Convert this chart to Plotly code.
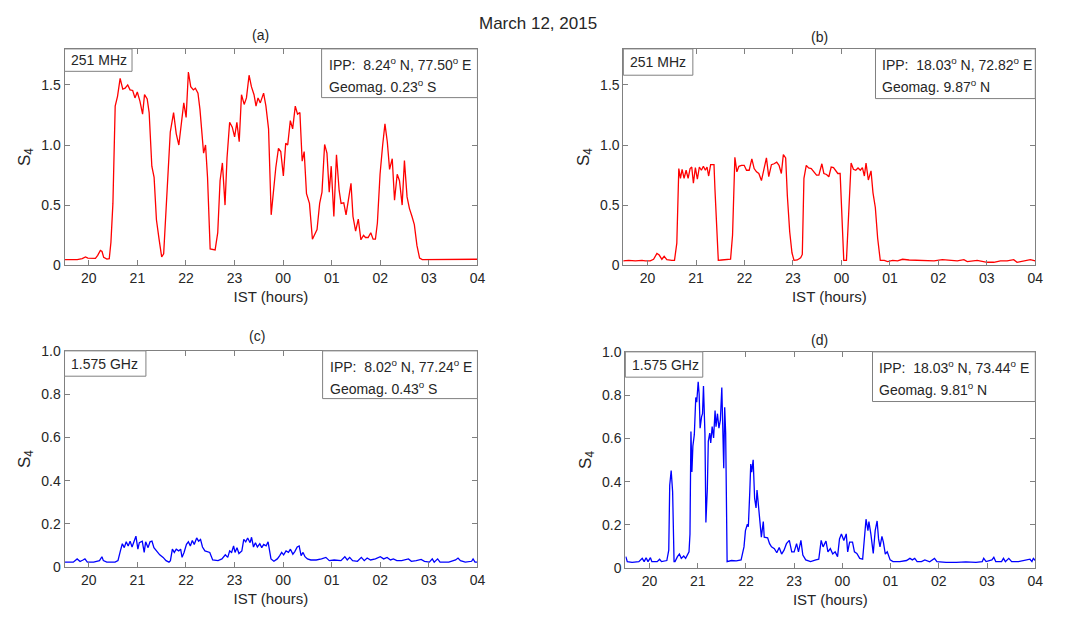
import plotly.graph_objects as go

# ---------------- data (IST hours; values after midnight are 24+) ----------------
hour_ticks = [20, 21, 22, 23, 24, 25, 26, 27, 28]
hour_labels = ["20", "21", "22", "23", "00", "01", "02", "03", "04"]

# (a) 251 MHz, IPP 8.24N
ta = [19.511, 19.762, 19.864, 19.932, 19.980, 20.068, 20.136, 20.183, 20.238, 20.272, 20.306, 20.373,
      20.421, 20.455, 20.496, 20.543, 20.591, 20.645, 20.699, 20.747, 20.801, 20.849, 20.903, 20.950,
      20.998, 21.052, 21.107, 21.147, 21.202, 21.242, 21.297, 21.344, 21.392, 21.446, 21.500, 21.541,
      21.595, 21.636, 21.677, 21.745, 21.799, 21.853, 21.901, 21.955, 22.003, 22.050, 22.098, 22.152,
      22.193, 22.247, 22.288, 22.329, 22.363, 22.403, 22.444, 22.498, 22.546, 22.600, 22.654, 22.702,
      22.750, 22.804, 22.845, 22.899, 22.953, 23.001, 23.048, 23.096, 23.143, 23.198, 23.245, 23.299,
      23.347, 23.401, 23.442, 23.483, 23.530, 23.564, 23.598, 23.646, 23.700, 23.754, 23.802, 23.849,
      23.904, 23.951, 24.005, 24.053, 24.094, 24.148, 24.196, 24.250, 24.297, 24.345, 24.392, 24.433,
      24.481, 24.542, 24.603, 24.650, 24.698, 24.752, 24.800, 24.854, 24.902, 24.949, 24.990, 25.044,
      25.098, 25.153, 25.193, 25.248, 25.295, 25.343, 25.397, 25.438, 25.492, 25.547, 25.601, 25.655,
      25.696, 25.750, 25.804, 25.852, 25.900, 25.940, 25.995, 26.049, 26.096, 26.144, 26.191, 26.246,
      26.293, 26.348, 26.395, 26.450, 26.497, 26.551, 26.599, 26.653, 26.701, 26.755, 26.809, 26.864,
      27.366, 27.997]
sa = [0.046, 0.046, 0.054, 0.068, 0.059, 0.059, 0.057, 0.081, 0.122, 0.114, 0.065, 0.051,
      0.054, 0.189, 0.514, 1.324, 1.405, 1.554, 1.465, 1.473, 1.500, 1.459, 1.454, 1.392,
      1.441, 1.365, 1.257, 1.419, 1.384, 1.270, 0.824, 0.730, 0.378, 0.216, 0.068, 0.095,
      0.514, 0.892, 1.108, 1.270, 1.095, 1.000, 1.162, 1.351, 1.230, 1.608, 1.486, 1.459,
      1.473, 1.432, 1.297, 1.108, 0.932, 1.000, 0.730, 0.135, 0.130, 0.127, 0.270, 0.703,
      0.851, 0.500, 0.892, 1.189, 1.149, 1.068, 1.189, 1.027, 1.419, 1.338, 1.392, 1.581,
      1.486, 1.419, 1.324, 1.392, 1.351, 1.392, 1.432, 1.324, 1.135, 0.419, 0.649, 0.811,
      0.973, 0.946, 0.743, 1.014, 1.000, 1.203, 1.135, 1.324, 1.257, 1.270, 0.865, 0.946,
      0.595, 0.514, 0.216, 0.257, 0.297, 0.514, 0.608, 1.005, 0.932, 0.608, 0.824, 0.405,
      0.919, 0.622, 0.514, 0.519, 0.419, 0.541, 0.681, 0.405, 0.284, 0.384, 0.211, 0.249,
      0.230, 0.230, 0.270, 0.216, 0.216, 0.351, 0.757, 1.000, 1.176, 1.027, 0.797, 0.886,
      0.541, 0.757, 0.703, 0.500, 0.870, 0.568, 0.473, 0.405, 0.338, 0.162, 0.059, 0.046,
      0.049, 0.049]

# (b) 251 MHz, IPP 18.03N
tb = [19.493, 19.610, 19.747, 19.884, 19.952, 20.055, 20.123, 20.192, 20.240, 20.295, 20.342, 20.397,
      20.500, 20.555, 20.603, 20.644, 20.678, 20.712, 20.753, 20.795, 20.836, 20.877, 20.911, 20.945,
      20.986, 21.027, 21.068, 21.110, 21.151, 21.192, 21.226, 21.260, 21.301, 21.370, 21.390, 21.425,
      21.459, 21.527, 21.630, 21.712, 21.753, 21.801, 21.842, 21.884, 21.938, 21.993, 22.041, 22.096,
      22.151, 22.199, 22.247, 22.295, 22.349, 22.397, 22.452, 22.500, 22.555, 22.610, 22.664, 22.712,
      22.760, 22.801, 22.849, 22.884, 22.932, 22.979, 23.021, 23.089, 23.158, 23.192, 23.226, 23.274,
      23.322, 23.377, 23.432, 23.486, 23.534, 23.596, 23.637, 23.692, 23.740, 23.788, 23.836, 23.877,
      23.925, 23.973, 24.014, 24.048, 24.103, 24.144, 24.199, 24.247, 24.295, 24.342, 24.390, 24.432,
      24.473, 24.507, 24.555, 24.610, 24.651, 24.699, 24.747, 24.801, 24.884, 24.952, 25.055, 25.158,
      25.260, 25.397, 25.534, 25.705, 25.911, 26.082, 26.253, 26.390, 26.527, 26.596, 26.801, 27.007,
      27.144, 27.281, 27.418, 27.555, 27.623, 27.760, 27.897, 28.000]
sb = [0.035, 0.040, 0.035, 0.040, 0.035, 0.035, 0.049, 0.097, 0.084, 0.049, 0.073, 0.046,
      0.040, 0.040, 0.183, 0.804, 0.723, 0.798, 0.723, 0.790, 0.723, 0.804, 0.817, 0.682,
      0.812, 0.715, 0.817, 0.790, 0.823, 0.790, 0.817, 0.742, 0.836, 0.836, 0.629, 0.332,
      0.040, 0.043, 0.043, 0.049, 0.251, 0.898, 0.777, 0.823, 0.831, 0.831, 0.790, 0.790,
      0.885, 0.804, 0.777, 0.763, 0.704, 0.804, 0.893, 0.736, 0.836, 0.844, 0.858, 0.831,
      0.763, 0.920, 0.893, 0.575, 0.278, 0.103, 0.040, 0.043, 0.062, 0.089, 0.723, 0.831,
      0.809, 0.804, 0.777, 0.750, 0.750, 0.844, 0.763, 0.755, 0.736, 0.817, 0.812, 0.790,
      0.763, 0.763, 0.386, 0.040, 0.040, 0.386, 0.850, 0.798, 0.790, 0.809, 0.790, 0.812,
      0.742, 0.850, 0.709, 0.785, 0.602, 0.480, 0.224, 0.040, 0.040, 0.030, 0.040, 0.035,
      0.049, 0.043, 0.040, 0.040, 0.035, 0.046, 0.040, 0.035, 0.046, 0.030, 0.040, 0.024,
      0.024, 0.035, 0.035, 0.046, 0.024, 0.035, 0.046, 0.035]

# (c) 1.575 GHz, IPP 8.02N
tc = [19.51, 19.68, 19.76, 19.82, 19.88, 19.92, 19.97, 20.10, 20.22, 20.27, 20.30, 20.37, 20.54, 20.60,
      20.65, 20.69, 20.73, 20.77, 20.81, 20.85, 20.89, 20.93, 20.97, 21.01, 21.04, 21.10, 21.14, 21.17,
      21.22, 21.26, 21.30, 21.34, 21.39, 21.46, 21.53, 21.59, 21.65, 21.68, 21.72, 21.76, 21.80, 21.85,
      21.89, 21.92, 21.96, 22.01, 22.05, 22.09, 22.13, 22.17, 22.22, 22.26, 22.30, 22.34, 22.39, 22.43,
      22.49, 22.55, 22.66, 22.74, 22.81, 22.86, 22.90, 22.94, 22.98, 23.01, 23.05, 23.09, 23.15, 23.19,
      23.23, 23.27, 23.32, 23.35, 23.39, 23.43, 23.47, 23.52, 23.56, 23.60, 23.65, 23.69, 23.72, 23.75,
      23.81, 23.88, 23.93, 23.97, 24.01, 24.06, 24.11, 24.15, 24.20, 24.24, 24.29, 24.33, 24.37, 24.41,
      24.45, 24.50, 24.57, 24.68, 24.79, 24.88, 24.95, 25.05, 25.19, 25.27, 25.32, 25.37, 25.43, 25.53,
      25.61, 25.67, 25.73, 25.80, 25.90, 26.00, 26.07, 26.14, 26.21, 26.27, 26.34, 26.44, 26.58, 26.64,
      26.74, 26.84, 26.91, 27.01, 27.07, 27.11, 27.18, 27.23, 27.41, 27.55, 27.60, 27.65, 27.75, 27.88,
      27.91, 27.95, 28.00]
sc = [0.023, 0.023, 0.038, 0.026, 0.033, 0.038, 0.023, 0.023, 0.030, 0.048, 0.030, 0.023, 0.023, 0.030,
      0.075, 0.108, 0.090, 0.117, 0.098, 0.120, 0.093, 0.117, 0.143, 0.083, 0.113, 0.120, 0.068, 0.117,
      0.090, 0.117, 0.120, 0.090, 0.075, 0.057, 0.045, 0.030, 0.023, 0.030, 0.083, 0.068, 0.083, 0.075,
      0.083, 0.045, 0.068, 0.105, 0.117, 0.098, 0.123, 0.105, 0.135, 0.120, 0.128, 0.093, 0.075, 0.072,
      0.068, 0.033, 0.030, 0.038, 0.057, 0.045, 0.075, 0.068, 0.098, 0.068, 0.090, 0.063, 0.075, 0.128,
      0.117, 0.135, 0.113, 0.138, 0.093, 0.113, 0.093, 0.108, 0.090, 0.105, 0.098, 0.117, 0.068, 0.038,
      0.027, 0.038, 0.053, 0.068, 0.057, 0.075, 0.068, 0.083, 0.060, 0.072, 0.093, 0.098, 0.053, 0.068,
      0.048, 0.038, 0.033, 0.033, 0.038, 0.045, 0.030, 0.033, 0.030, 0.048, 0.033, 0.045, 0.030, 0.027,
      0.045, 0.030, 0.042, 0.033, 0.038, 0.048, 0.038, 0.045, 0.033, 0.038, 0.030, 0.030, 0.038, 0.027,
      0.030, 0.036, 0.027, 0.023, 0.038, 0.023, 0.038, 0.023, 0.023, 0.033, 0.042, 0.030, 0.023, 0.027,
      0.038, 0.023, 0.023]

# (d) 1.575 GHz, IPP 18.03N
td = [19.51, 19.54, 19.64, 19.78, 19.85, 19.89, 19.93, 19.97, 20.02, 20.05, 20.16, 20.21, 20.25, 20.36,
      20.40, 20.42, 20.45, 20.48, 20.51, 20.53, 20.58, 20.62, 20.66, 20.71, 20.75, 20.79, 20.82, 20.84,
      20.86, 20.88, 20.90, 20.93, 20.96, 20.98, 21.01, 21.03, 21.05, 21.08, 21.10, 21.12, 21.15, 21.17,
      21.20, 21.22, 21.25, 21.27, 21.30, 21.33, 21.36, 21.38, 21.41, 21.44, 21.47, 21.50, 21.52, 21.54,
      21.56, 21.58, 21.61, 21.70, 21.80, 21.90, 21.96, 21.99, 22.03, 22.05, 22.08, 22.10, 22.12, 22.15,
      22.18, 22.21, 22.23, 22.26, 22.29, 22.32, 22.36, 22.38, 22.45, 22.49, 22.53, 22.59, 22.64, 22.69,
      22.74, 22.79, 22.84, 22.90, 22.95, 23.00, 23.05, 23.09, 23.14, 23.18, 23.24, 23.34, 23.45, 23.51,
      23.56, 23.60, 23.66, 23.70, 23.75, 23.80, 23.85, 23.90, 23.94, 23.98, 24.03, 24.08, 24.11, 24.15,
      24.21, 24.25, 24.30, 24.36, 24.42, 24.46, 24.49, 24.53, 24.55, 24.59, 24.62, 24.64, 24.68, 24.72,
      24.75, 24.78, 24.82, 24.85, 24.89, 24.93, 24.99, 25.05, 25.19, 25.33, 25.40, 25.45, 25.50, 25.55,
      25.64, 25.71, 25.81, 25.91, 25.96, 26.15, 26.36, 26.56, 26.77, 26.90, 26.93, 26.98, 27.10, 27.14,
      27.18, 27.30, 27.34, 27.38, 27.45, 27.51, 27.65, 27.79, 27.89, 27.93, 27.96, 28.00]
sd = [0.053, 0.030, 0.026, 0.030, 0.045, 0.030, 0.048, 0.030, 0.048, 0.030, 0.030, 0.041, 0.030, 0.035,
      0.083, 0.383, 0.451, 0.353, 0.030, 0.030, 0.053, 0.065, 0.045, 0.056, 0.045, 0.060, 0.075, 0.158,
      0.632, 0.444, 0.564, 0.617, 0.789, 0.767, 0.862, 0.805, 0.647, 0.699, 0.714, 0.842, 0.624, 0.211,
      0.368, 0.586, 0.624, 0.579, 0.654, 0.602, 0.729, 0.654, 0.714, 0.647, 0.684, 0.835, 0.639, 0.462,
      0.744, 0.624, 0.030, 0.035, 0.033, 0.038, 0.098, 0.173, 0.203, 0.191, 0.353, 0.481, 0.444, 0.501,
      0.323, 0.278, 0.361, 0.286, 0.233, 0.143, 0.215, 0.143, 0.140, 0.113, 0.098, 0.090, 0.071, 0.095,
      0.065, 0.083, 0.113, 0.128, 0.075, 0.075, 0.113, 0.075, 0.128, 0.060, 0.038, 0.030, 0.038, 0.041,
      0.128, 0.098, 0.125, 0.075, 0.090, 0.065, 0.075, 0.053, 0.135, 0.158, 0.128, 0.158, 0.075, 0.120,
      0.120, 0.075, 0.068, 0.045, 0.041, 0.143, 0.226, 0.173, 0.215, 0.158, 0.113, 0.068, 0.173, 0.218,
      0.135, 0.098, 0.147, 0.120, 0.065, 0.075, 0.038, 0.030, 0.030, 0.035, 0.045, 0.038, 0.045, 0.030,
      0.030, 0.038, 0.029, 0.045, 0.030, 0.026, 0.026, 0.029, 0.026, 0.030, 0.045, 0.030, 0.038, 0.050,
      0.030, 0.030, 0.045, 0.030, 0.045, 0.030, 0.030, 0.035, 0.041, 0.030, 0.045, 0.035]

panel_titles = ["(a)", "(b)", "(c)", "(d)"]
freq_labels = ["251 MHz", "251 MHz", "1.575 GHz", "1.575 GHz"]
ipp_lines = ["IPP:  8.24<sup>o</sup> N, 77.50<sup>o</sup> E",
             "IPP:  18.03<sup>o</sup> N, 72.82<sup>o</sup> E",
             "IPP:  8.02<sup>o</sup> N, 77.24<sup>o</sup> E",
             "IPP:  18.03<sup>o</sup> N, 73.44<sup>o</sup> E"]
geo_lines = ["Geomag. 0.23<sup>o</sup> S", "Geomag. 9.87<sup>o</sup> N",
             "Geomag. 0.43<sup>o</sup> S", "Geomag. 9.81<sup>o</sup> N"]

# ---------------- layout helpers ----------------
W, H = 1084, 617
FONT = "Liberation Sans, Arial, Helvetica, sans-serif"
TXT = "#262626"
AX = "#808080"

def px(x):
    return x / W

def py(y):
    return 1 - y / H

# plot areas in pixels: (left, right, top, bottom)
areas = [(65, 481, 42, 264), (628, 1043, 42, 264), (65, 481, 352, 574), (630, 1043, 353, 575)]
freq_boxes = [(65, 133, 42, 65), (628, 698, 42, 69), (65, 147, 352, 378), (630, 708, 353, 379)]
ipp_boxes = [(324, 481, 42, 92), (882, 1043, 42, 93), (325, 481, 352, 401), (879, 1043, 353, 404)]
title_pos = [(262, 28), (826, 30), (259, 337), (826, 341)]

fig = go.Figure()
series = [(ta, sa, "#ff0000"), (tb, sb, "#ff0000"), (tc, sc, "#0000ff"), (td, sd, "#0000ff")]

shapes = []
annotations = []
for i, (t, s, col) in enumerate(series):
    k = "" if i == 0 else str(i + 1)
    fig.add_trace(go.Scatter(x=t, y=s, mode="lines", line=dict(color=col, width=1.3),
                             xaxis="x" + k, yaxis="y" + k, showlegend=False, hoverinfo="skip"))
    l, r, tp, bt = areas[i]
    if i < 2:
        yr, yt, ytt = [0, 1.8], [0, 0.5, 1.0, 1.5], ["0", "0.5", "1.0", "1.5"]
    else:
        yr, yt, ytt = [0, 1.0], [0, 0.2, 0.4, 0.6, 0.8, 1.0], ["0", "0.2", "0.4", "0.6", "0.8", "1.0"]
    common = dict(showline=True, linecolor=AX, linewidth=1, mirror="ticks", ticks="inside",
                  ticklen=5, tickcolor=AX, showgrid=False, zeroline=False,
                  tickfont=dict(family=FONT, size=14, color=TXT))
    fig.layout["xaxis" + k] = dict(common, domain=[px(l), px(r)], range=[19.5, 28],
                                   tickvals=hour_ticks, ticktext=hour_labels, anchor="y" + k,
                                   title=dict(text="IST (hours)", font=dict(family=FONT, size=15, color=TXT),
                                              standoff=6))
    fig.layout["yaxis" + k] = dict(common, domain=[py(bt), py(tp)], range=yr, tickvals=yt,
                                   ticktext=ytt, anchor="x" + k,
                                   title=dict(text="S<sub>4</sub>", font=dict(family=FONT, size=17, color=TXT),
                                              standoff=6))
    # subplot title
    annotations.append(dict(x=px(title_pos[i][0]), y=py(title_pos[i][1]), xref="paper", yref="paper",
                            text=panel_titles[i], showarrow=False, xanchor="center", yanchor="middle",
                            font=dict(family=FONT, size=14, color=TXT)))
    # frequency box
    fl, fr, ft, fb = freq_boxes[i]
    shapes.append(dict(type="rect", xref="paper", yref="paper", x0=px(fl), x1=px(fr), y0=py(fb), y1=py(ft),
                       line=dict(color=AX, width=1), fillcolor="white", layer="above"))
    annotations.append(dict(x=px(fl + 5), y=py((ft + fb) / 2), xref="paper", yref="paper",
                            text=freq_labels[i], showarrow=False, xanchor="left", yanchor="middle",
                            font=dict(family=FONT, size=14, color=TXT)))
    # IPP box
    il, ir, it, ib = ipp_boxes[i]
    shapes.append(dict(type="rect", xref="paper", yref="paper", x0=px(il), x1=px(ir), y0=py(ib), y1=py(it),
                       line=dict(color=AX, width=1), fillcolor="white", layer="above"))
    annotations.append(dict(x=px(il + 5), y=py(it + 16), xref="paper", yref="paper",
                            text=ipp_lines[i], showarrow=False, xanchor="left", yanchor="middle",
                            font=dict(family=FONT, size=14, color=TXT)))
    annotations.append(dict(x=px(il + 5), y=py(it + 38), xref="paper", yref="paper",
                            text=geo_lines[i], showarrow=False, xanchor="left", yanchor="middle",
                            font=dict(family=FONT, size=14, color=TXT)))

annotations.append(dict(x=px(542), y=py(16), xref="paper", yref="paper", text="March 12, 2015",
                        showarrow=False, xanchor="center", yanchor="middle",
                        font=dict(family=FONT, size=17, color=TXT)))

fig.update_layout(width=W, height=H, margin=dict(l=0, r=0, t=0, b=0),
                  paper_bgcolor="white", plot_bgcolor="white",
                  shapes=shapes, annotations=annotations)

fig.write_html("out.html")
